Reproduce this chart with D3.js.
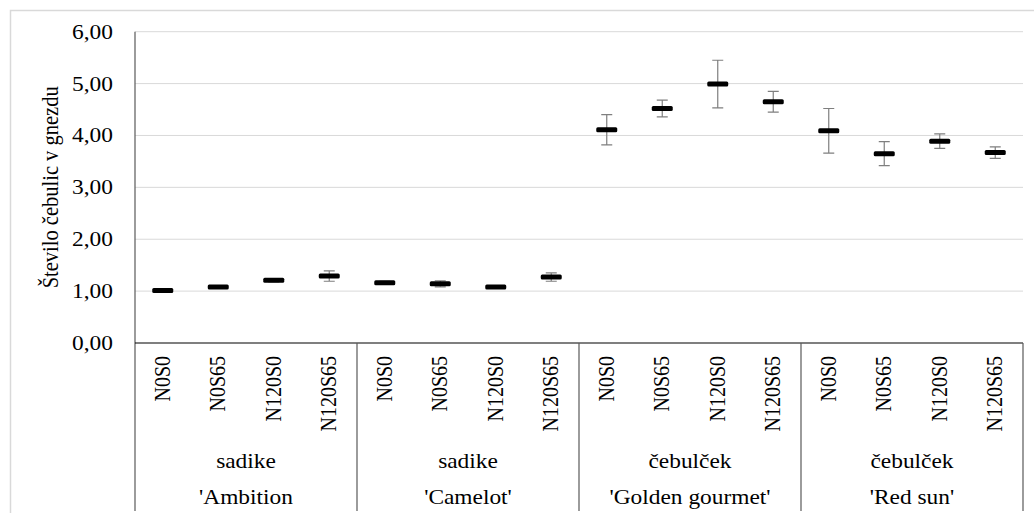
<!DOCTYPE html>
<html>
<head>
<meta charset="utf-8">
<script src="https://cdn.jsdelivr.net/npm/d3@7"></script>
<style>
  body { margin: 0; background: #fff; }
</style>
</head>
<body>
<div id="chart"></div>
<script>
var svgWidth = 1034;
var svgHeight = 513;

// data
var varieties = ["'Ambition", "'Camelot'", "'Golden gourmet'", "'Red sun'"];
var types = ["sadike", "sadike", "čebulček", "čebulček"];
var treatments = ["N0S0", "N0S65", "N120S0", "N120S65"];
var means = [1.01, 1.08, 1.21, 1.29,
             1.16, 1.14, 1.08, 1.27,
             4.11, 4.52, 4.99, 4.65,
             4.09, 3.65, 3.89, 3.67];
var errs = [0.02, 0.02, 0.03, 0.10,
            0.03, 0.06, 0.02, 0.08,
            0.29, 0.16, 0.46, 0.20,
            0.43, 0.23, 0.14, 0.11];
var yTicks = [0, 1, 2, 3, 4, 5, 6];

var margin = { top: 31.7, right: 11, bottom: 170, left: 135 };
var width = svgWidth - margin.left - margin.right;
var height = svgHeight - margin.top - margin.bottom;

var serif = "'Liberation Serif'";
var fontSize = 20;
var stretch = 1.17;

var svg = d3.select("#chart")
  .append("svg")
  .attr("width", svgWidth)
  .attr("height", svgHeight);

// chart area border
svg.append("path")
  .attr("d", `M10.5,${svgHeight} V10.5 H${svgWidth}`)
  .attr("fill", "none")
  .attr("stroke", "#d9d9d9")
  .attr("stroke-width", 1.5);

var chartGroup = svg.append("g")
  .attr("transform", `translate(${margin.left}, ${margin.top})`);

var rows = [];
varieties.forEach(function(v, i) {
  treatments.forEach(function(t, j) {
    var k = i * treatments.length + j;
    rows.push({ key: k, group: i, treatment: t, mean: means[k], err: errs[k] });
  });
});

var xBand = d3.scaleBand()
  .domain(rows.map(d => d.key))
  .range([0, width])
  .padding(0);

var yLinearScale = d3.scaleLinear()
  .domain([0, 6])
  .range([height, 0]);

var fmt = d3.formatLocale({ decimal: ",", thousands: ".", grouping: [3], currency: ["", ""] }).format(".2f");

// gridlines
chartGroup.append("g")
  .selectAll("line")
  .data(yTicks.filter(d => d > 0))
  .enter()
  .append("line")
  .attr("x1", 0)
  .attr("x2", width)
  .attr("y1", d => yLinearScale(d))
  .attr("y2", d => yLinearScale(d))
  .attr("stroke", "#d9d9d9")
  .attr("stroke-width", 1);

// y axis with tick labels
var leftAxis = d3.axisLeft(yLinearScale)
  .tickValues(yTicks)
  .tickSize(0)
  .tickPadding(0)
  .tickFormat(fmt);

var yAxis = chartGroup.append("g").call(leftAxis);
yAxis.attr("font-family", null).attr("font-size", null);
yAxis.select(".domain").remove();
yAxis.selectAll("text")
  .attr("x", null)
  .attr("dy", null)
  .style("font-family", serif)
  .style("font-size", fontSize + "px")
  .attr("text-anchor", "end")
  .attr("dominant-baseline", "central")
  .attr("transform", `translate(-22,0) scale(${stretch},1)`);

// y axis line, runs down through the category table
chartGroup.append("line")
  .attr("x1", 0).attr("x2", 0)
  .attr("y1", 0).attr("y2", svgHeight - margin.top - 2)
  .attr("stroke", "#595959")
  .attr("stroke-width", 1.2);

// x axis line
chartGroup.append("line")
  .attr("x1", 0).attr("x2", width)
  .attr("y1", height).attr("y2", height)
  .attr("stroke", "#000")
  .attr("stroke-width", 1.2);

// group separators
var groupEdges = d3.range(1, varieties.length + 1).map(i => xBand(i * treatments.length - 1) + xBand.bandwidth());
chartGroup.append("g")
  .selectAll("line")
  .data(groupEdges)
  .enter()
  .append("line")
  .attr("x1", d => d).attr("x2", d => d)
  .attr("y1", height).attr("y2", svgHeight - margin.top - 2)
  .attr("stroke", "#595959")
  .attr("stroke-width", 1.2);

// treatment labels (rotated)
chartGroup.append("g")
  .selectAll("text")
  .data(rows)
  .enter()
  .append("text")
  .attr("transform", d => `translate(${xBand(d.key) + xBand.bandwidth() / 2 - 1}, ${height + 13}) scale(${stretch},1) rotate(-90)`)
  .attr("text-anchor", "end")
  .attr("dy", "0.35em")
  .style("font-family", serif)
  .style("font-size", fontSize + "px")
  .text(d => d.treatment);

// type and variety labels
var groupCenter = i => xBand(i * treatments.length) + xBand.bandwidth() * treatments.length / 2;

chartGroup.append("g")
  .selectAll("text")
  .data(types)
  .enter()
  .append("text")
  .attr("transform", (d, i) => `translate(${groupCenter(i)}, ${height + 125}) scale(${stretch},1)`)
  .attr("text-anchor", "middle")
  .style("font-family", serif)
  .style("font-size", fontSize + "px")
  .text(d => d);

chartGroup.append("g")
  .selectAll("text")
  .data(varieties)
  .enter()
  .append("text")
  .attr("transform", (d, i) => `translate(${groupCenter(i)}, ${height + 161}) scale(${stretch},1)`)
  .attr("text-anchor", "middle")
  .style("font-family", serif)
  .style("font-size", fontSize + "px")
  .text(d => d);

// y axis title
svg.append("text")
  .attr("transform", `translate(50, ${margin.top + height / 2}) scale(1.1,1) rotate(-90)`)
  .attr("text-anchor", "middle")
  .attr("dy", "0.35em")
  .style("font-family", serif)
  .style("font-size", "20.5px")
  .text("Število čebulic v gnezdu");

// error bars
var cx = d => xBand(d.key) + xBand.bandwidth() / 2;
var errGroup = chartGroup.append("g")
  .attr("stroke", "#7f7f7f")
  .attr("stroke-width", 1.2)
  .attr("fill", "none");

errGroup.selectAll("path")
  .data(rows)
  .enter()
  .append("path")
  .attr("d", function(d) {
    var x = cx(d);
    var y1 = yLinearScale(d.mean + d.err);
    var y2 = yLinearScale(d.mean - d.err);
    return `M${x},${y1}V${y2}M${x - 5.5},${y1}H${x + 5.5}M${x - 5.5},${y2}H${x + 5.5}`;
  });

// mean markers
chartGroup.append("g")
  .selectAll("rect")
  .data(rows)
  .enter()
  .append("rect")
  .attr("x", d => cx(d) - 10.5)
  .attr("y", d => yLinearScale(d.mean) - 2.5)
  .attr("width", 21)
  .attr("height", 5)
  .attr("rx", 1.5)
  .attr("fill", "#000");
</script>
</body>
</html>
